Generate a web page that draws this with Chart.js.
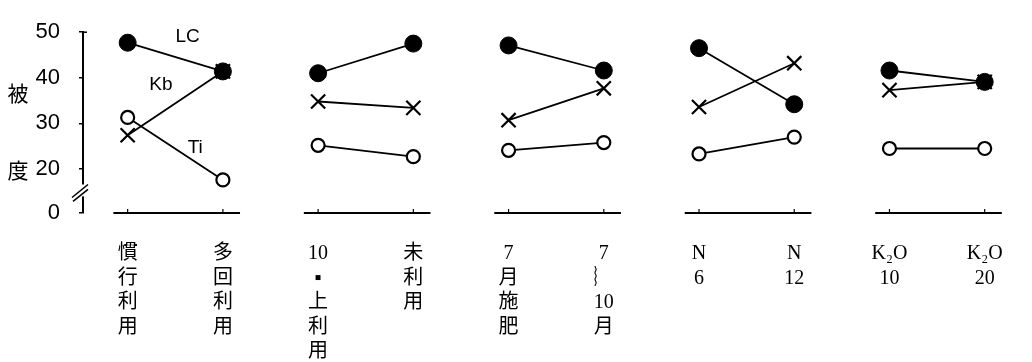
<!DOCTYPE html>
<html>
<head>
<meta charset="utf-8">
<script src="https://cdn.jsdelivr.net/npm/chart.js@4/dist/chart.umd.min.js"></script>
<style>
html,body{margin:0;padding:0;background:#fff;}
#wrap{width:1032px;height:362px;}
</style>
</head>
<body>
<div id="wrap"><canvas id="c" width="1032" height="362"></canvas></div>
<script>
// ---- data ----
const categories = [
  ['慣','行','利','用'],
  ['多','回','利','用'],
  ['10','▪','上','利','用'],
  ['未','利','用'],
  ['7','月','施','肥'],
  ['7','︴','10','月'],
  ['N','6'],
  ['N','12'],
  ['K₂O','10'],
  ['K₂O','20']
];
const seriesNames = ['LC', 'Kb', 'Ti'];
const lcValues = [47.7, 41.4, 41.0, 47.5, 47.1, 41.6, 46.5, 34.2, 41.6, 39.1];
const kbValues = [27.4, 41.4, 34.8, 33.4, 30.7, 37.7, 33.6, 43.2, 37.3, 39.1];
const tiValues = [31.3, 17.6, 25.2, 22.7, 24.1, 25.8, 23.3, 27.0, 24.5, 24.5];
const yTickValues = [20, 30, 40, 50];
const yBottomLabel = '0';
const yMin = 10.35, yMax = 50;
const yTitleChars = ['被', '度'];
// annotation positions for series names (data units)
const nameX = [0.63, 0.35, 0.71];
const nameY = [48.9, 38.5, 24.7];

function toPoints(vals) {
  const pts = [];
  vals.forEach((v, i) => {
    pts.push({x: i, y: v});
    if (i % 2 === 1 && i < vals.length - 1) pts.push({x: i + 0.5, y: null});
  });
  return pts;
}

const black = '#000';
const latinCjk = '"Liberation Serif", "Noto Sans CJK JP", serif';

const decorPlugin = {
  id: 'decor',
  beforeDatasetsDraw(chart) {
    const ctx = chart.ctx, xs = chart.scales.x, ca = chart.chartArea;
    ctx.save();
    ctx.strokeStyle = black;
    ctx.lineWidth = 2;
    for (let p = 0; p < categories.length / 2; p++) {
      const a = xs.getPixelForValue(2 * p - 0.15);
      const b = xs.getPixelForValue(2 * p + 1 + 0.18);
      ctx.beginPath();
      ctx.moveTo(a, ca.bottom); ctx.lineTo(b, ca.bottom);
      ctx.stroke();
      [2 * p, 2 * p + 1].forEach(i => {
        const x = xs.getPixelForValue(i);
        ctx.lineWidth = 1.2;
        ctx.beginPath(); ctx.moveTo(x, ca.bottom); ctx.lineTo(x, ca.bottom - 4); ctx.stroke();
        ctx.lineWidth = 2;
      });
    }
    ctx.restore();
  },
  afterDraw(chart) {
    const ctx = chart.ctx, xs = chart.scales.x, ys = chart.scales.y, ca = chart.chartArea;
    ctx.save();
    // axis break
    const yb1 = ys.getPixelForValue(16.6), yb2 = ys.getPixelForValue(14.0);
    ctx.fillStyle = '#fff';
    ctx.fillRect(ca.left - 3, yb1, 6, yb2 - yb1);
    ctx.strokeStyle = black; ctx.lineWidth = 1.6;
    ctx.beginPath();
    ctx.moveTo(ca.left - 11, yb1 + 13); ctx.lineTo(ca.left + 5, yb1);
    ctx.moveTo(ca.left - 10, yb2 + 5); ctx.lineTo(ca.left + 5, yb2 - 7);
    ctx.stroke();
    // top tick of axis pointing right
    ctx.lineWidth = 1.5;
    ctx.beginPath(); ctx.moveTo(ca.left, ca.top); ctx.lineTo(ca.left + 4, ca.top); ctx.stroke();
    // y title characters
    ctx.fillStyle = black;
    ctx.font = '21px "Noto Sans CJK JP", sans-serif';
    ctx.textAlign = 'center'; ctx.textBaseline = 'middle';
    ctx.fillText(yTitleChars[0], 18, ys.getPixelForValue(36.6));
    ctx.fillText(yTitleChars[1], 18, ys.getPixelForValue(19.7));
    // series names
    ctx.font = '19px "Liberation Sans", sans-serif';
    seriesNames.forEach((n, i) => {
      ctx.fillText(n, xs.getPixelForValue(nameX[i]), ys.getPixelForValue(nameY[i]));
    });
    ctx.restore();
  }
};

new Chart(document.getElementById('c'), {
  type: 'line',
  data: {
    datasets: [
      {
        label: seriesNames[1], data: toPoints(kbValues),
        borderColor: black, borderWidth: 1.8, backgroundColor: black,
        pointStyle: 'crossRot', pointRadius: 10, pointBorderWidth: 2.2,
        pointBorderColor: black, spanGaps: false
      },
      {
        label: seriesNames[2], data: toPoints(tiValues),
        borderColor: black, borderWidth: 1.8,
        pointStyle: 'circle', pointRadius: 6.5, pointBorderWidth: 2.2,
        pointBackgroundColor: '#fff', pointBorderColor: black, spanGaps: false
      },
      {
        label: seriesNames[0], data: toPoints(lcValues),
        borderColor: black, borderWidth: 1.8,
        pointStyle: 'circle', pointRadius: 8.5, pointBorderWidth: 1,
        pointBackgroundColor: black, pointBorderColor: black, spanGaps: false
      }
    ]
  },
  options: {
    responsive: false,
    animation: false,
    clip: false,
    layout: {padding: {left: 0, right: 12, top: 20, bottom: 0}},
    plugins: {legend: {display: false}, tooltip: {enabled: false}},
    elements: {line: {tension: 0}},
    scales: {
      x: {
        type: 'linear', min: -0.469, max: 9.30,
        afterBuildTicks: s => { s.ticks = categories.map((_, i) => ({value: i})); },
        afterFit: s => { s.height = 149; },
        grid: {display: false, drawTicks: false},
        border: {display: false},
        ticks: {
          autoSkip: false, maxRotation: 0, minRotation: 0, padding: 29,
          color: black,
          font: {family: latinCjk, size: 20, lineHeight: 1.22},
          callback: v => categories[v]
        }
      },
      y: {
        type: 'linear', min: yMin, max: yMax,
        afterBuildTicks: s => { s.ticks = [{value: yMin}].concat(yTickValues.map(v => ({value: v}))); },
        afterFit: s => { s.width = 83; },
        grid: {display: true, drawOnChartArea: false, drawTicks: true, tickLength: 4, color: black, lineWidth: 1.5},
        border: {display: true, color: black, width: 2},
        ticks: {
          padding: 19, color: black,
          font: {family: '"Liberation Sans Narrow", "Liberation Sans", sans-serif', size: 22},
          callback: v => (v === yMin ? yBottomLabel : String(v))
        }
      }
    }
  },
  plugins: [decorPlugin]
});
</script>
</body>
</html>
